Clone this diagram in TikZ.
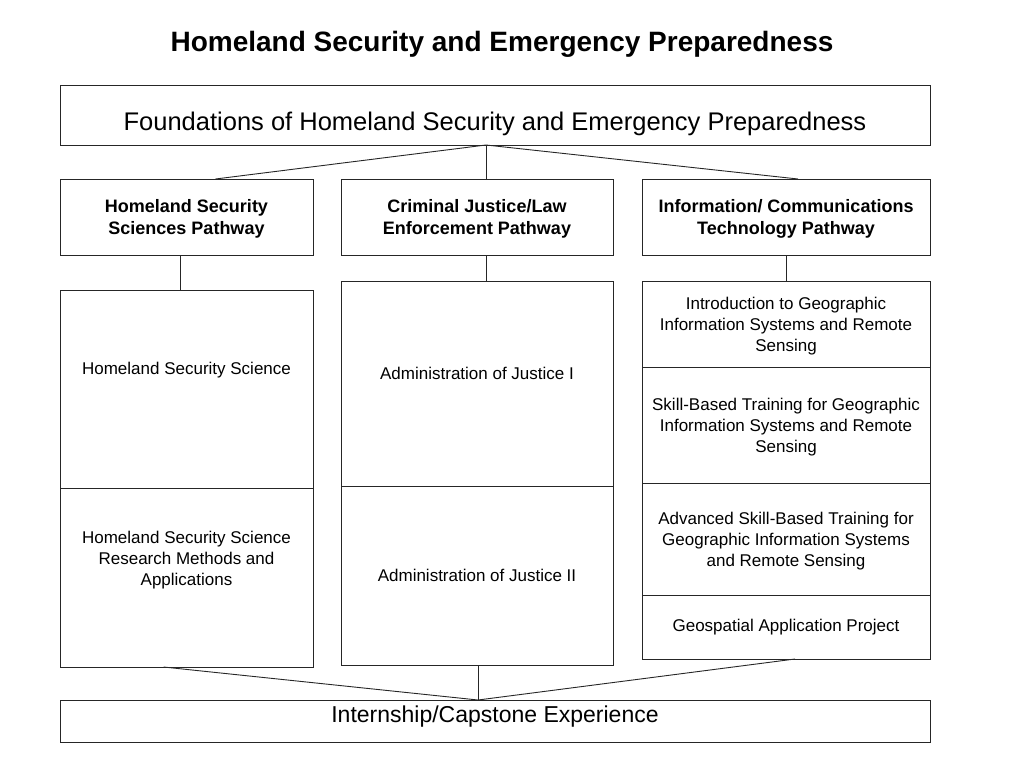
\documentclass[tikz,border=0pt]{standalone}
\usepackage{fontspec}
\setmainfont{Liberation Sans}
\usetikzlibrary{positioning}

\begin{document}
\begin{tikzpicture}[
  x=1pt, y=-1pt,
  cell/.style={draw=black!85, line width=1pt, align=center, inner sep=0pt, outer sep=0pt,
               font=\fontsize{17}{20.6}\selectfont},
  course/.style={cell, minimum width=288pt, text height=57.6pt},
  pathbox/.style={cell, minimum height=76pt, text height=39.6pt, font=\bfseries\fontsize{18}{22.5}\selectfont},
  wide/.style={cell, minimum width=870pt, anchor=north west},
  link/.style={draw=black!85, line width=0.9pt}
]
\useasboundingbox (0,0) rectangle (1024,768);
\node[font=\bfseries\fontsize{28}{34}\selectfont] (title) at (502,44) {Homeland Security and Emergency Preparedness};
\node[wide, text height=45pt, text depth=15pt, font=\fontsize{25.5}{30}\selectfont] (found) at (60,85)
  {Foundations of Homeland Security and Emergency Preparedness};

% pathways
\node[pathbox, anchor=north west, minimum width=253pt] (hsp) at (60,179) {Homeland Security\\Sciences Pathway};
\node[pathbox, anchor=north west, minimum width=272pt] (cjp) at (341,179) {Criminal Justice/Law\\Enforcement Pathway};
\node[pathbox, anchor=north west, minimum width=288pt] (ictp) at (642,179) {Information/ Communications\\Technology Pathway};

% courses
\node[cell, anchor=north west, minimum width=253pt, minimum height=198pt, text depth=41pt] (hss) at (60,290)
  {Homeland Security Science};
\node[cell, below=0pt of hss, minimum width=253pt, minimum height=179pt, text height=57.6pt, text depth=42.6pt] (hsr)
  {Homeland Security Science\\Research Methods and\\Applications};
\node[cell, anchor=north west, minimum width=272pt, minimum height=205pt, text depth=21pt] (aoj1) at (341,281)
  {Administration of Justice I};
\node[cell, below=0pt of aoj1, minimum width=272pt, minimum height=179pt] (aoj2) {Administration of Justice II};
\node[course, anchor=north west, minimum height=86pt] (gis1) at (642,281)
  {Introduction to Geographic\\Information Systems and Remote\\Sensing};
\node[course, below=0pt of gis1, minimum height=116pt] (gis2)
  {Skill-Based Training for Geographic\\Information Systems and Remote\\Sensing};
\node[course, below=0pt of gis2, minimum height=112pt] (gis3)
  {Advanced Skill-Based Training for\\Geographic Information Systems\\and Remote Sensing};
\node[cell, below=0pt of gis3, minimum width=288pt, minimum height=64pt] (gis4) {Geospatial Application Project};

\node[wide, text height=22pt, text depth=20pt, font=\fontsize{23}{27}\selectfont] (intern) at (60,700)
  {Internship/Capstone Experience};

% connectors
\coordinate (split) at ([xshift=-9pt]found.south);
\coordinate (join) at ([xshift=-17pt]intern.north);
\draw[link] (split) -- ([xshift=29pt]hsp.north);
\draw[link] (split) -- ([xshift=9pt]cjp.north);
\draw[link] (split) -- ([xshift=12pt]ictp.north);
\draw[link] ([xshift=-6pt]hsp.south) -- ([xshift=-6pt]hss.north);
\draw[link] ([xshift=9pt]cjp.south) -- ([xshift=9pt]aoj1.north);
\draw[link] (ictp.south) -- (gis1.north);
\draw[link] ([xshift=-23pt]hsr.south) -- (join);
\draw[link] ([xshift=1pt]aoj2.south) -- (join);
\draw[link] ([xshift=9pt]gis4.south) -- (join);
\end{tikzpicture}
\end{document}
